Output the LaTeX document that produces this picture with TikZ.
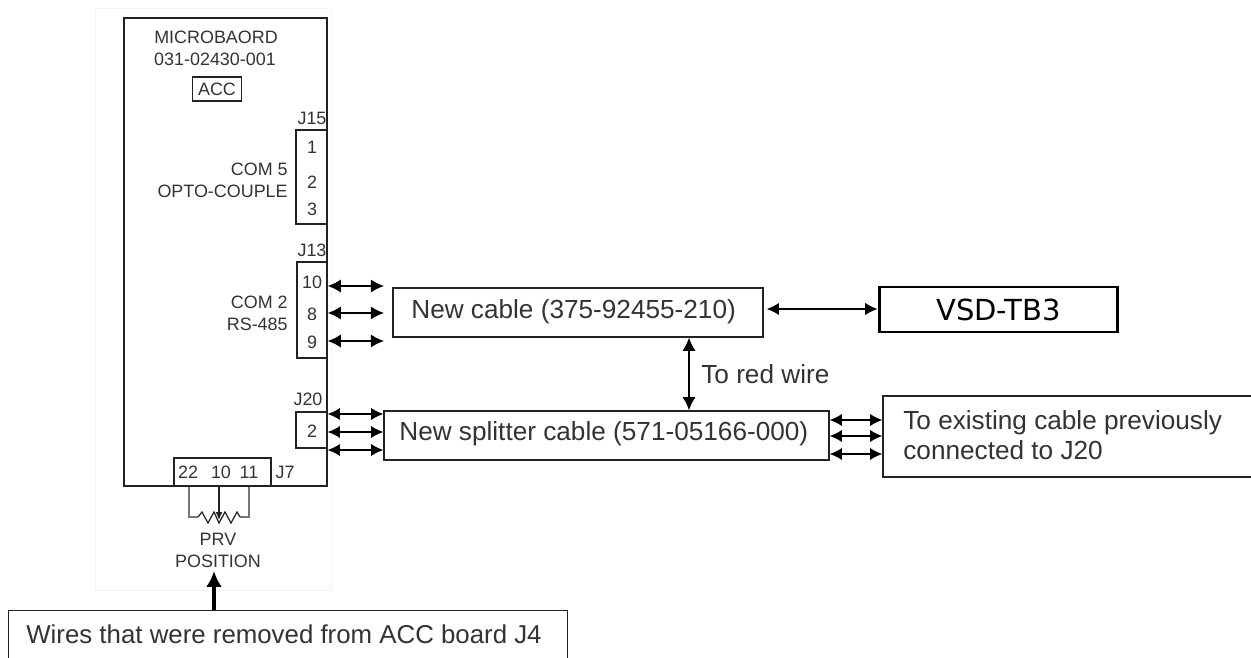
\documentclass[tikz,border=0pt]{standalone}
\usepackage{fontspec}
\setmainfont{Liberation Sans}
\newfontfamily\vsdfont{DejaVu Sans}
\definecolor{mbText}{HTML}{333333}
\definecolor{mbLine}{HTML}{222222}
\definecolor{mbFaint}{HTML}{F4F4F4}
\definecolor{mbWire}{HTML}{777777}
\usetikzlibrary{calc,arrows.meta}

\tikzset{
  box/.style={draw=mbLine, line width=0.8pt, inner sep=0pt},
  small/.style={font=\fontsize{10.2}{12}\selectfont, text=mbText, inner sep=0pt},
  label/.style={font=\fontsize{14.9}{17}\selectfont, text=mbText, inner sep=0pt},
  twoway/.style={draw=black, line width=0.8pt, {Latex[length=7.5pt,width=7.5pt]}-{Latex[length=7.5pt,width=7.5pt]}},
  twowaysmall/.style={draw=black, line width=0.8pt, {Latex[length=7pt,width=7pt]}-{Latex[length=7pt,width=7pt]}}
}

\begin{document}
\begin{tikzpicture}[x=0.02cm, y=-0.02cm]
  \useasboundingbox (0,0) rectangle (1251,658);
  \fill[white] (0,0) rectangle (1251,658);
  \draw[mbFaint, line width=0.4pt] (95,8) rectangle (331,590);

  % microboard
  \node[box, minimum width=4.06cm, minimum height=9.36cm] (board) at (225.5,252) {};
  \node[small] (title) at (216,37) {MICROBAORD};
  \node[small] (partno) at (215,59) {031-02430-001};
  \node[box, small, minimum width=0.98cm, minimum height=0.48cm] (acc) at (217,89) {ACC};

  % J15
  \node[box, minimum width=0.62cm, minimum height=1.88cm] (jfifteen) at (311.5,177) {};
  \node[small] (jfifteenname) at (312,118) {J15};
  \node[small] (pinone) at (312,147) {1};
  \node[small] (pintwo) at (312,182) {2};
  \node[small] (pinthree) at (312,209) {3};
  \node[small, anchor=east] (comfive) at (288,169) {COM 5};
  \node[small, anchor=east] (opto) at (288,191) {OPTO-COUPLE};

  % J13
  \node[box, minimum width=0.6cm, minimum height=1.92cm] (jthirteen) at (312,310) {};
  \node[small] (jthirteenname) at (312,250) {J13};
  \node[small] (pinten) at (312,282) {10};
  \node[small] (pineight) at (312,314) {8};
  \node[small] (pinnine) at (312,342) {9};
  \node[small, anchor=east] (comtwo) at (288,302) {COM 2};
  \node[small, anchor=east] (rs) at (288,324) {RS-485};

  % J20
  \node[box, minimum width=0.62cm, minimum height=0.72cm] (jtwenty) at (311.5,430) {};
  \node[small] (jtwentyname) at (308,399) {J20};
  \node[small] (pinj) at (312,431) {2};

  % J7
  \node[box, minimum width=1.94cm, minimum height=0.56cm] (jseven) at (222.5,472) {};
  \node[small] (pinxxii) at (188,472) {22};
  \node[small] (pinx) at (221,472) {10};
  \node[small] (pinxi) at (249,472) {11};
  \node[small] (jsevenname) at (285,472) {J7};

  % PRV
  \coordinate (wiper) at (219,520);
  \coordinate (rleft) at (189,517);
  \coordinate (rright) at (249,517);
  \draw[mbWire, line width=0.9pt] (jseven.south -| rleft) -- (rleft) -- ++(9,0);
  \draw[mbWire, line width=0.9pt] (jseven.south -| rright) -- (rright) -- ++(-9,0);
  \draw[mbLine, line width=0.7pt] (198,517) -- ++(4,-5) -- ++(6,11) -- ++(6,-11) -- ++(5,11) -- ++(6,-11) -- ++(6,11) -- ++(6,-11) -- ++(3,5);
  \draw[mbLine, line width=0.8pt, -{Latex[length=4.5pt,width=4pt]}] (jseven.south -| wiper) -- (wiper);
  \node[small] (prv) at (218,539) {PRV};
  \node[small] (prvpos) at (218,561) {POSITION};

  % wires box, its foot is cut by the page
  \node[box, minimum width=11.18cm, minimum height=0.96cm, anchor=north west] (wires) at (8,610) {};
  \node[label, font=\fontsize{14.7}{17}\selectfont, anchor=west] (wirestext) at (26,634) {Wires that were removed from ACC board J4};
  \coordinate (wirefoot) at (214,610);
  \coordinate (wiretip) at (214,571);
  \draw[draw=black, line width=1.8pt, -{Latex[length=9pt,width=9pt]}] (wirefoot) -- (wiretip);

  % cables
  \node[box, minimum width=7.4cm, minimum height=0.98cm] (cable) at (578,312.5) {};
  \node[label, anchor=west] (cabletext) at (411,312) {New cable (375-92455-210)};
  \node[box, minimum width=8.9cm, minimum height=0.98cm] (splitter) at (606.5,435.5) {};
  \node[label, anchor=west] (splittertext) at (399,434) {New splitter cable (571-05166-000)};
  \node[draw=black, line width=1.7pt, inner sep=0pt, minimum width=4.78cm, minimum height=0.9cm, font=\vsdfont\fontsize{16.5}{18}\selectfont] (vsd) at (998.5,309.5) {VSD-TB3};
  \node[box, minimum width=7.4cm, minimum height=1.62cm] (existing) at (1068,436.5) {};
  \node[label, anchor=west, align=left] (existingtext) at (903,435) {To existing cable previously\\connected to J20};
  \node[label, anchor=west] (redwire) at (701,374) {To red wire};

  % connectors
  \coordinate (jthirteenend) at (384,0);
  \foreach \py in {286,313,341} {
    \coordinate (left\py) at (board.east |- 0,\py);
    \draw[twoway] (left\py) -- (left\py -| jthirteenend);
  }
  \foreach \py in {414,432,450} {
    \coordinate (mid\py) at (board.east |- 0,\py);
    \draw[twowaysmall] (mid\py) -- (mid\py -| splitter.west);
  }
  \foreach \py in {420,436,454} {
    \coordinate (right\py) at (splitter.east |- 0,\py);
    \draw[twowaysmall] (right\py) -- (right\py -| existing.west);
  }
  \coordinate (cablein) at (cable.east |- 0,309);
  \draw[twowaysmall] ($(cablein)+(3,0)$) -- (cablein -| vsd.west);
  \coordinate (redin) at (689,0);
  \draw[twoway] (cable.south -| redin) -- (splitter.north -| redin);
\end{tikzpicture}
\end{document}
